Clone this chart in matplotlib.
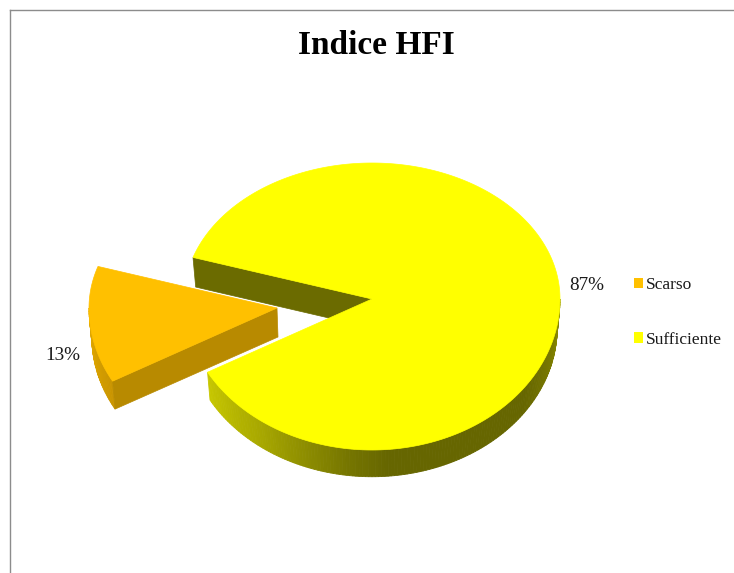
# -*- coding: utf-8 -*-
import numpy as np
import matplotlib
matplotlib.use('Agg')
import matplotlib.pyplot as plt
from matplotlib.colors import to_rgb
from matplotlib.patches import Patch

labels = ['Scarso', 'Sufficiente']
values = [13, 87]
top_colors = ['#ffc000', '#ffff00']
cut_colors = ['#b88a00', '#6b6b00']

plt.rcParams['font.family'] = ['Liberation Serif', 'DejaVu Serif']

# pie geometry, in pixels of the picture
start_angle = 162.2
rx = 188
ry_up = 136
ry_down = 151
depth = 29
shrink = 0.985
centers = [(277, 308), (372, 299)]
pct_pos = [(63, 355), (587, 285)]


def rim(cx, cy, deg, scale=1.0, drop=0):
    t = np.radians(deg)
    s = np.sin(t)
    ry = np.where(s > 0, ry_up, ry_down)
    return cx + rx * scale * np.cos(t), cy + drop - ry * scale * s


def wall_color(deg, stops, colors):
    rgb = np.array([to_rgb(c) for c in colors])
    return [np.interp(deg, stops, rgb[:, i]) for i in range(3)]


def outer_wall(ax, cx, cy, a0, a1, stops, colors, z):
    angles = np.arange(a0, a1 + 1, 1.0)
    for p, q in zip(angles[:-1], angles[1:]):
        x0, y0 = rim(cx, cy, np.array([p, q]))
        x1, y1 = rim(cx, cy, np.array([q, p]), shrink, depth)
        c = wall_color((p + q) / 2, stops, colors)
        ax.fill(np.r_[x0, x1], np.r_[y0, y1], color=c, lw=0.6, zorder=z)


fig = plt.figure(figsize=(7.34, 5.73), dpi=100)
ax = fig.add_axes([10 / 734, 0, 724 / 734, 563 / 573])
ax.set_xlim(10, 734)
ax.set_ylim(573, 10)
ax.set_xticks([])
ax.set_yticks([])
for side in ['right', 'bottom']:
    ax.spines[side].set_visible(False)
for side in ['left', 'top']:
    ax.spines[side].set_color('#8c8c8c')
    ax.spines[side].set_linewidth(1.0)

fractions = np.array(values) / sum(values) * 360
edges = start_angle + np.r_[0, np.cumsum(fractions)]

# orange slice, pulled out
cx, cy = centers[0]
a0, a1 = edges[0], edges[1]
outer_wall(ax, cx, cy, 180, a1, [180, a1], ['#e8ad00', '#c99500'], 2)
xa, ya = rim(cx, cy, a1)
xb, yb = rim(cx, cy, a1, shrink, depth)
ax.fill([cx, xa, xb, cx + 1], [cy, ya, yb, cy + depth], color=cut_colors[0], lw=0.5, zorder=3)
angles = np.linspace(a0, a1, 60)
xs, ys = rim(cx, cy, angles)
ax.fill(np.r_[cx, xs], np.r_[cy, ys], color=top_colors[0], lw=0.5, zorder=4)

# yellow slice
cx, cy = centers[1]
a0, a1 = edges[1], edges[2]
xa, ya = rim(cx, cy, a1)
xb, yb = rim(cx, cy, a1, shrink, depth)
ax.fill([cx, xa, xb, cx], [cy, ya, yb, cy + depth], color=cut_colors[1], lw=0.5, zorder=5)
outer_wall(ax, cx, cy, a0, 360, [a0, 235, 262, 275, 325, 360],
           ['#c8c800', '#a6a600', '#777700', '#666600', '#666600', '#8a8a00'], 5)
angles = np.linspace(a0, a1, 400)
xs, ys = rim(cx, cy, angles)
ax.fill(np.r_[cx, xs], np.r_[cy, ys], color=top_colors[1], lw=0.5, zorder=6)

# texts
ax.text(376, 46, 'Indice HFI', fontsize=24, fontweight='bold', ha='center', va='center', color='black')
for v, (x, y) in zip(values, pct_pos):
    ax.text(x, y, f'{v}%', fontsize=13.8, ha='center', va='center', color='#1a1a1a')

handles = [Patch(facecolor=c, edgecolor='none') for c in top_colors]
ax.legend(handles, labels, loc='center left', bbox_to_anchor=(618, 312.5), bbox_transform=ax.transData,
          frameon=False, fontsize=12.5, handlelength=0.55, handleheight=0.55, handletextpad=0.18,
          labelspacing=2.2, labelcolor='#1a1a1a')

fig.savefig('out.png', dpi=100)
